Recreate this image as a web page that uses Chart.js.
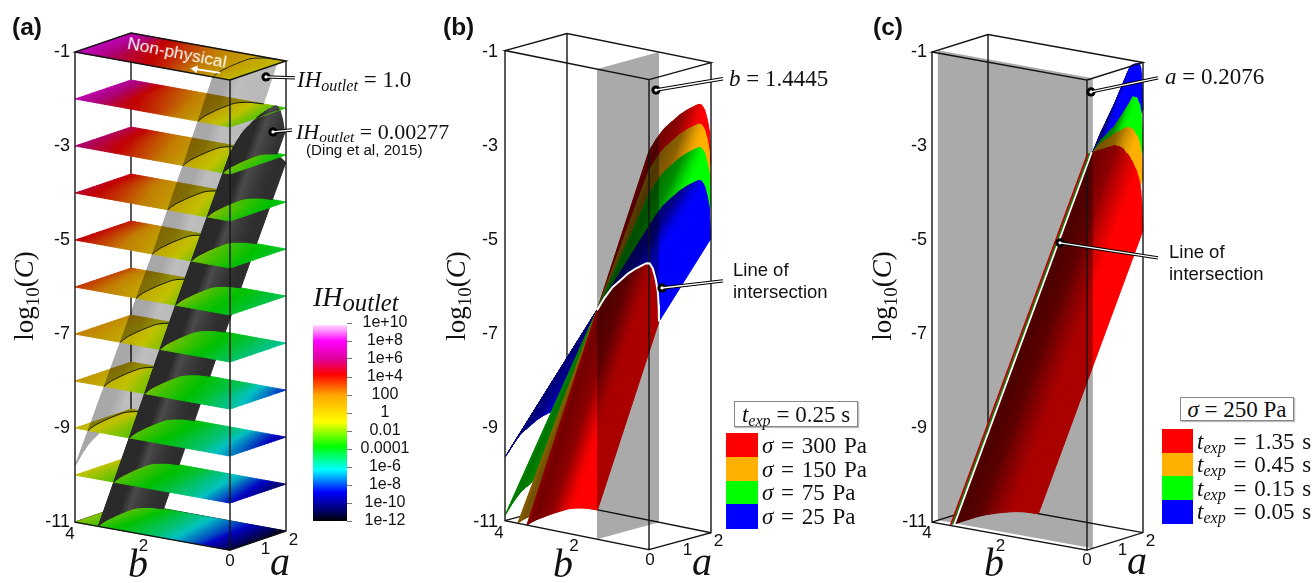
<!DOCTYPE html>
<html>
<head>
<meta charset="utf-8">
<script src="https://cdn.jsdelivr.net/npm/chart.js@4"></script>
<style>
  body { margin: 0; background: #fff; width: 1312px; height: 583px; overflow: hidden; position: relative; }
  canvas { position: absolute; top: 0; }
  .t { position: absolute; white-space: nowrap; line-height: 1; color: #111; }
  .sans { font-family: "Liberation Sans", sans-serif; }
  .math { font-family: "Liberation Serif", serif; font-size: 23px; }
  .math sub { font-size: 0.7em; line-height: 0; font-style: italic; vertical-align: -0.22em; }
  .tag { font: bold 24.5px "Liberation Sans", sans-serif; }
  .axis-b { font-family: "Liberation Serif", serif; font-style: italic; font-size: 40px; }
  .ylab { font-family: "Liberation Serif", serif; font-size: 27px; transform: translate(-50%, -50%) rotate(-90deg); }
  .ylab sub { font-size: 0.7em; line-height: 0; }
  .boxed { border: 1.5px solid #888; box-shadow: 1px 1px 1px #bbb; background: #fff; box-sizing: border-box; display: flex; align-items: center; justify-content: center; }
  .swatch { position: absolute; }
</style>
</head>
<body>
<canvas id="panelA" width="300" height="583" style="left:0"></canvas>
<canvas id="panelB" width="300" height="583" style="left:440px"></canvas>
<canvas id="panelC" width="300" height="583" style="left:870px"></canvas>
<canvas id="colorbar" width="110" height="240" style="left:313px;top:300px"></canvas>
<div id="labels"></div>
<script>
// Axis values
const logCTicks = [-1, -3, -5, -7, -9, -11];
const bTicks = [4, 2, 0];
const aTicks = [1, 2];

// Colour scale, log10(IH_outlet)
const colorbarValues = [10, 8, 6, 4, 2, 0, -2, -4, -6, -8, -10, -12];
const colorbarLabels = ['1e+10', '1e+8', '1e+6', '1e+4', '100', '1', '0.01', '0.0001', '1e-6', '1e-8', '1e-10', '1e-12'];
const cmapValues = [-12, -11, -8.8, -6.3, -3.7, -1, 2, 4.3, 6, 8, 9, 10];
const cmapColors = ['#000000', '#000060', '#0000ff', '#00ffff', '#00ff00', '#ffff00', '#ffa500', '#ff0000', '#e0009a', '#ff00ff', '#ff80ff', '#ffeeff'];

// Panel (a) slices: log10(IH) read at these b values along the a=0 and a=2 edges
const planeLogC = [-1, -2, -3, -4, -5, -6, -7, -8, -9, -10, -11];
const planeB = [4, 3, 2, 1, 0];
const planeIhFront = [
  [8, 5.5, 4.2, 2, -0.5],
  [7.5, 5, 3.6, 1, -2],
  [6, 4.5, 2.5, 0, -2.5],
  [5, 3.5, 1.5, -0.8, -3.2],
  [4.5, 2.5, 0.5, -2, -3.7],
  [3.5, 1.5, -0.5, -3, -4.2],
  [2, 0.5, -1.5, -3.5, -5],
  [1, -0.5, -2.5, -4, -5.6],
  [-0.3, -1.8, -3.5, -4.8, -7],
  [-1, -2.5, -4, -5.5, -8.6],
  [-1.8, -3.6, -5, -7.5, -11]
];
const planeIhBack = [
  [8, 4.3, 2.5, 0.8, -0.7],
  [7, 3.5, 1.5, -0.5, -3],
  [5.5, 2.5, 0.5, -2, -3.7],
  [4.5, 1.5, -0.5, -3, -4],
  [4, 0.5, -1.5, -3.3, -4.3],
  [3, -0.5, -2.5, -3.7, -4.8],
  [1.5, -1.5, -3.2, -4.2, -5.8],
  [0.5, -2.5, -3.7, -5, -8.3],
  [-0.3, -3, -4, -6, -9.6],
  [-1, -3.3, -4.5, -7, -10.6],
  [-1.8, -3.8, -6, -8.5, -11.8]
];

// Iso-surface section: shift of b against a at constant log10(C)
const archA = [0, 0.25, 0.5, 0.75, 1, 1.25, 1.5, 1.6, 1.7, 1.8, 1.9, 1.96, 1.99, 2];
const archB = [0, 0.09, 0.16, 0.2, 0.24, 0.265, 0.28, 0.285, 0.275, 0.225, 0.12, 0.02, -0.1, -0.24];

// Panel (a) iso-surfaces, b at a=0
const lightLogC = [-1, -3, -5, -7, -9, -10];
const lightB = [0.44, 1.21, 2.0, 2.83, 3.66, 4.08];
const darkLogC = [-1, -3, -5, -7, -9, -11];
const darkB = [-0.64, 0.18, 1.0, 1.81, 2.6, 3.4];

// Panel (b): slope db/dlogC of each surface about the line of intersection
const sigmaLabels = ['300', '150', '75', '25'];
const sigmaSlopes = [0.4, 0.452, 0.537, 0.725];
const crossB = 1.4445;
const crossLogC = -6.13;

// Panel (c): shift of b against a for each surface
const texpLabels = ['1.35', '0.45', '0.15', '0.05'];
const crossA = 0.2076;
const texpA = [0, 0.2076, 0.5, 1, 1.25, 1.5, 1.65, 1.8, 1.9, 1.96, 2];
const texpShift = [
  [0, 0, 0, 0, -0.04, -0.13, -0.21, -0.31, -0.42, -0.55, -0.84],
  [0, 0, 0.06, 0.105, 0.12, 0.126, 0.09, 0.02, -0.06, -0.16, -0.37],
  [0, 0, 0.085, 0.176, 0.25, 0.33, 0.385, 0.36, 0.28, 0.16, -0.12],
  [0, 0, 0.155, 0.38, 0.51, 0.64, 0.7, 0.72, 0.66, 0.55, 0.25]
];
const ridgeLogC = [-11, -2.57];
const ridgeB = [3.54, 0];

// Surface lighting against a
const shadeA = [0, 0.4, 1.1, 1.5, 1.8, 2];
const shadeV = [0.55, 0.45, 0.55, 0.8, 1, 1];
const lightGreyA = [0, 1, 1.6, 2];
const lightGreyV = [168, 168, 190, 185];
const darkGreyA = [0, 1.1, 1.5, 1.8, 2];
const darkGreyV = [42, 42, 75, 60, 45];

const seriesRgb = [[255, 0, 0], [255, 176, 0], [0, 255, 0], [0, 0, 255]];
const seriesCss = ['#ff0000', '#ffb000', '#00ff00', '#0000ff'];

const UNIT = 47; // pixels per decade of C on the y scale
const geoA = { bx: 38.75, by: 7, ax: 28, ay: 9.5, shift: 0 };
const geoB = { bx: 36, by: 7.25, ax: 31, ay: 8.5, shift: 0.03 };
const geoC = { bx: 38.75, by: 7, ax: 28, ay: 8.75, shift: 0 };

function lerpTable(xs, ys, x) {
  for (let i = 0; i < xs.length - 1; i++) {
    const x0 = xs[i], x1 = xs[i + 1];
    if ((x >= x0 && x <= x1) || (x <= x0 && x >= x1)) {
      return ys[i] + (ys[i + 1] - ys[i]) * (x - x0) / (x1 - x0);
    }
  }
  // outside the table: carry on the nearest segment
  const n = xs.length - 1;
  const i = Math.abs(x - xs[0]) < Math.abs(x - xs[n]) ? 0 : n - 1;
  return ys[i] + (ys[i + 1] - ys[i]) * (x - xs[i]) / (xs[i + 1] - xs[i]);
}

function hexToRgb(hex) {
  return [1, 3, 5].map(i => parseInt(hex.substr(i, 2), 16));
}

const cmapRgb = cmapColors.map(hexToRgb);
function colormap(v) {
  const clamped = Math.max(-12, Math.min(10, v));
  return [0, 1, 2].map(c => lerpTable(cmapValues, cmapRgb.map(s => s[c]), clamped));
}

function css(rgb, k) {
  return `rgb(${Math.round(rgb[0] * k)},${Math.round(rgb[1] * k)},${Math.round(rgb[2] * k)})`;
}

// oblique view: x scale runs in view units, y scale in log10(C)
function project(geo, a, b, c) {
  const u = 4 - b;
  return { x: u * geo.bx + a * geo.ax, y: c + geo.shift - (u * geo.by - a * geo.ay) / UNIT };
}

function toPixel(chart, geo, a, b, c) {
  const p = project(geo, a, b, c);
  return [chart.scales.x.getPixelForValue(p.x), chart.scales.y.getPixelForValue(p.y)];
}

function fillPoly(ctx, pts, color, seam) {
  ctx.beginPath();
  pts.forEach((p, i) => (i ? ctx.lineTo(p[0], p[1]) : ctx.moveTo(p[0], p[1])));
  ctx.closePath();
  ctx.fillStyle = color;
  ctx.fill();
  if (seam) {
    ctx.strokeStyle = color;
    ctx.lineWidth = seam;
    ctx.lineJoin = 'round';
    ctx.stroke();
  }
}

function logCRange(bAt, a, lo, hi) {
  let first = null, last = null;
  for (let c = lo; c <= hi + 1e-9; c += 0.02) {
    const b = bAt(a, c);
    if (b >= 0 && b <= 4) {
      if (first === null) first = c;
      last = c;
    }
  }
  return first === null ? null : [first, last];
}

function drawSheet(ctx, chart, geo, sheet) {
  const step = 0.04;
  const aMin = sheet.aMin || 0;
  for (let a = aMin; a < 2 - 1e-9; a += step) {
    const a2 = Math.min(2, a + step);
    const r1 = logCRange(sheet.bAt, a, sheet.lo(a), sheet.hi(a));
    const r2 = logCRange(sheet.bAt, a2, sheet.lo(a2), sheet.hi(a2));
    if (!r1 || !r2) continue;
    const pts = [
      toPixel(chart, geo, a, sheet.bAt(a, r1[0]), r1[0]),
      toPixel(chart, geo, a, sheet.bAt(a, r1[1]), r1[1]),
      toPixel(chart, geo, a2, sheet.bAt(a2, r2[1]), r2[1]),
      toPixel(chart, geo, a2, sheet.bAt(a2, r2[0]), r2[0])
    ];
    fillPoly(ctx, pts, sheet.color((a + a2) / 2), 1);
  }
}

function multiplyLayer(ctx, chart, paint) {
  const layer = document.createElement('canvas');
  layer.width = chart.width;
  layer.height = chart.height;
  paint(layer.getContext('2d'));
  ctx.save();
  ctx.globalCompositeOperation = 'multiply';
  ctx.drawImage(layer, 0, 0);
  ctx.restore();
}

function drawSlice(ctx, chart, geo, row) {
  const c = planeLogC[row];
  const nb = 64, na = 16;
  const value = (a, b) => {
    const f = lerpTable(planeB, planeIhFront[row], b);
    const k = lerpTable(planeB, planeIhBack[row], b);
    return f + (k - f) * a / 2;
  };
  for (let i = 0; i < nb; i++) {
    for (let j = 0; j < na; j++) {
      const b1 = 4 - 4 * i / nb, b2 = 4 - 4 * (i + 1) / nb;
      const a1 = 2 * j / na, a2 = 2 * (j + 1) / na;
      const pts = [
        toPixel(chart, geo, a1, b1, c), toPixel(chart, geo, a1, b2, c),
        toPixel(chart, geo, a2, b2, c), toPixel(chart, geo, a2, b1, c)
      ];
      fillPoly(ctx, pts, css(colormap(value((a1 + a2) / 2, (b1 + b2) / 2)), 0.76), 0.8);
    }
  }
}

function archAt(a) { return lerpTable(archA, archB, a); }

function paintPanelA(chart, ctx) {
  const geo = geoA;
  const lightAt = (a, c) => lerpTable(lightLogC, lightB, c) + archAt(a);
  const darkAt = (a, c) => lerpTable(darkLogC, darkB, c) + archAt(a);
  const lightCss = a => { const g = lerpTable(lightGreyA, lightGreyV, a); return css([g, g, g], 1); };
  const darkCss = a => { const g = lerpTable(darkGreyA, darkGreyV, a); return css([g, g, g], 1); };

  for (let row = planeLogC.length - 1; row >= 0; row--) {
    const c = planeLogC[row];
    drawSlice(ctx, chart, geo, row);

    // section of the IH=1 surface on the slice
    if (lightAt(1.6, c) <= 4) {
      ctx.beginPath();
      for (let a = 0; a <= 2.001; a += 0.05) {
        const b = lightAt(a, c);
        if (b < 0 || b > 4) continue;
        const p = toPixel(chart, geo, a, b, c);
        ctx.lineTo(p[0], p[1]);
      }
      ctx.strokeStyle = '#222';
      ctx.lineWidth = 1;
      ctx.stroke();
    }
    if (row === 0) break;

    const lo = () => c, hi = () => planeLogC[row - 1];
    multiplyLayer(ctx, chart, g => drawSheet(g, chart, geo, { bAt: lightAt, lo, hi, color: lightCss }));
    drawSheet(ctx, chart, geo, { bAt: darkAt, lo, hi, color: darkCss });
  }
}

function paintPanelB(chart, ctx) {
  const geo = geoB;
  const crossAt = a => crossLogC + archAt(a) / sigmaSlopes[0];
  const sheet = i => ({
    bAt: (a, c) => crossB - sigmaSlopes[i] * (c - crossAt(a)),
    color: a => css(seriesRgb[i], lerpTable(shadeA, shadeV, a))
  });
  // part below the line of intersection, then the part above it
  for (let i = 3; i >= 0; i--) {
    drawSheet(ctx, chart, geo, { ...sheet(i), lo: () => -11, hi: crossAt });
  }
  for (let i = 0; i < 4; i++) {
    drawSheet(ctx, chart, geo, { ...sheet(i), lo: crossAt, hi: () => -1 });
  }
  ctx.save();
  ctx.globalCompositeOperation = 'multiply';
  fillPoly(ctx, [
    toPixel(chart, geo, 0, crossB, -1), toPixel(chart, geo, 2, crossB, -1),
    toPixel(chart, geo, 2, crossB, -11), toPixel(chart, geo, 0, crossB, -11)
  ], '#aaaaaa');
  ctx.restore();
}

function paintPanelC(chart, ctx) {
  const geo = geoC;
  for (let i = 3; i >= 0; i--) {
    drawSheet(ctx, chart, geo, {
      aMin: crossA,
      bAt: (a, c) => lerpTable(ridgeLogC, ridgeB, c) + lerpTable(texpA, texpShift[i], a),
      lo: () => -11,
      hi: () => -1,
      color: a => css(seriesRgb[i], lerpTable(shadeA, shadeV, a))
    });
  }
  ctx.save();
  ctx.globalCompositeOperation = 'multiply';
  fillPoly(ctx, [
    toPixel(chart, geo, crossA, 4, -1), toPixel(chart, geo, crossA, 0, -1),
    toPixel(chart, geo, crossA, 0, -11), toPixel(chart, geo, crossA, 4, -11)
  ], '#aaaaaa');
  ctx.restore();
}

function polyline(geo, corners) {
  // corners: [a, b, logC] triples, null breaks the line
  return corners.map(k => (k ? project(geo, k[0], k[1], k[2]) : { x: null, y: null }));
}

function boxDatasets(geo) {
  const back = [[2, 4, -1], [2, 4, -11], null, [0, 4, -11], [2, 4, -11], [2, 0, -11]];
  const front = [
    [0, 4, -1], [0, 4, -11], [0, 0, -11], [0, 0, -1], [0, 4, -1], [2, 4, -1], [2, 0, -1], [0, 0, -1], null,
    [2, 0, -1], [2, 0, -11], [0, 0, -11]
  ];
  const edge = { showLine: true, pointRadius: 0, clip: false, borderColor: '#141414', borderWidth: 1.4, spanGaps: false };
  return [
    { ...edge, id: 'back', order: 10, data: polyline(geo, back) },
    { ...edge, id: 'front', order: 5, data: polyline(geo, front) }
  ];
}

// black-and-white leader from a dot on the surface to its label
function leader(dot, end) {
  const data = [{ x: dot[0], y: dot[1] }, { x: end[0], y: end[1] }];
  const base = { showLine: true, clip: false, data };
  return [
    { ...base, order: 2, borderColor: '#000', borderWidth: 3.4, pointRadius: [4.6, 0], pointBackgroundColor: '#000', pointBorderWidth: 0 },
    { ...base, order: 1, borderColor: '#fff', borderWidth: 1.4, pointRadius: [1.6, 0], pointBackgroundColor: '#fff', pointBorderWidth: 0 }
  ];
}

function makeChart(id, geo, axisWidth, tickPad, paint, extra, nudge) {
  const canvas = document.getElementById(id);
  return new Chart(canvas, {
    type: 'scatter',
    data: { datasets: [...boxDatasets(geo), ...extra] },
    options: {
      responsive: false,
      animation: false,
      events: [],
      layout: { padding: { top: 20, bottom: 20, left: 0, right: 0 } },
      plugins: { legend: { display: false }, tooltip: { enabled: false } },
      scales: {
        x: { type: 'linear', display: false, min: 0, max: 200 },
        y: {
          type: 'linear',
          min: -11.87,
          max: -0.32,
          afterBuildTicks: s => { s.ticks = logCTicks.map(v => ({ value: v })); },
          afterFit: s => { s.width = axisWidth; },
          grid: { display: false, drawTicks: false },
          border: { display: false },
          ticks: { padding: tickPad, color: '#111', font: { family: 'Liberation Sans', size: 18 }, callback: v => String(v) }
        }
      }
    },
    plugins: [{
      id: 'surfaces',
      afterLayout(chart) {
        // view units along x are one per pixel of the plot width
        const x = chart.scales.x;
        x.min = 0;
        x.max = x.width;
        x.configure();
      },
      afterDatasetDraw(chart, args) {
        if (chart.data.datasets[args.index].id === 'back') paint(chart, chart.ctx);
      },
      afterDraw(chart) {
        const ctx = chart.ctx;
        ctx.save();
        ctx.fillStyle = '#111';
        ctx.font = '17px "Liberation Sans"';
        ctx.textAlign = 'center';
        ctx.textBaseline = 'middle';
        bTicks.forEach((b, i) => {
          const p = toPixel(chart, geo, 0, b, -11);
          ctx.fillText(String(b), p[0] + nudge[i][0], p[1] + nudge[i][1]);
        });
        aTicks.forEach(a => {
          const p = toPixel(chart, geo, a, 0, -11);
          ctx.fillText(String(a), p[0] + 7.5, p[1] + 9);
        });
        ctx.restore();
      }
    }]
  });
}

// Panel (a)
const arrowLine = {
  showLine: true, clip: false, order: 1, borderColor: '#fff', borderWidth: 1.8,
  pointStyle: 'triangle', pointRotation: -80, pointRadius: [0, 4.5], pointBackgroundColor: '#fff', pointBorderWidth: 0,
  data: [{ x: 145, y: -1.447 }, { x: 120, y: -1.362 }]
};
makeChart('panelA', geoA, 75, 5, paintPanelA, [
  ...leader([191, -1.53], [220, -1.55]),
  ...leader([198, -2.7], [217, -2.66]),
  arrowLine
], [[-5, 12], [-9, 10.5], [0, 11]]);

// Panel (b)
const crossCurveA = archA;
makeChart('panelB', geoB, 65, 7, paintPanelB, [
  {
    showLine: true, clip: false, order: 3, pointRadius: 0, borderColor: '#fff', borderWidth: 2,
    data: crossCurveA.map(a => project(geoB, a, crossB, crossLogC + archAt(a) / sigmaSlopes[0]))
  },
  ...leader([151, -1.81], [218, -1.57]),
  ...leader([157, -6.02], [218, -5.87])
], [[-6, 12.5], [-3, 11.5], [1, 11]]);

// Panel (c)
const stripe = (a, color) => ({
  showLine: true, clip: false, order: 3, pointRadius: 0, borderColor: color, borderWidth: 1.7,
  data: ridgeLogC.map((c, i) => project(geoC, a, ridgeB[i], c))
});
makeChart('panelC', geoC, 62, 5, paintPanelC, [
  stripe(0.03, '#b80000'),
  stripe(0.09, '#0a800a'),
  stripe(0.17, '#ffffff'),
  ...leader([159, -1.85], [226, -1.55]),
  ...leader([128, -5.06], [226, -5.38])
], [[-5, 11], [-9, 10], [0, 10]]);

// Colour bar
new Chart(document.getElementById('colorbar'), {
  type: 'bar',
  data: {
    labels: ['IH'],
    datasets: [{
      data: [[-12, 9.7]],
      barPercentage: 1,
      categoryPercentage: 1,
      backgroundColor: c => {
        const { ctx, chartArea, scales } = c.chart;
        if (!chartArea) return '#000';
        const y0 = scales.y.getPixelForValue(-12), y1 = scales.y.getPixelForValue(10);
        const g = ctx.createLinearGradient(0, y0, 0, y1);
        cmapValues.forEach((v, i) => g.addColorStop((v + 12) / 22, cmapColors[i]));
        return g;
      }
    }]
  },
  options: {
    responsive: false,
    animation: false,
    events: [],
    layout: { padding: { top: 23, bottom: 19 } },
    plugins: { legend: { display: false }, tooltip: { enabled: false } },
    scales: {
      x: { display: false },
      y: {
        position: 'right',
        min: -12,
        max: 10,
        afterBuildTicks: s => { s.ticks = colorbarValues.map(v => ({ value: v })); },
        afterFit: s => { s.width = 76; },
        grid: { drawOnChartArea: false, tickLength: 5, color: '#777' },
        border: { display: false },
        ticks: {
          padding: 8.5,
          autoSkip: false,
          crossAlign: 'center',
          color: '#111',
          font: { family: 'Liberation Sans', size: 16 },
          callback: v => colorbarLabels[colorbarValues.indexOf(v)]
        }
      }
    }
  }
});

// Text and legends
const labels = document.getElementById('labels');
function addText(cls, x, y, html, style) {
  const el = document.createElement('div');
  el.className = 't ' + cls;
  el.style.left = x + 'px';
  el.style.top = y + 'px';
  el.innerHTML = html;
  if (style) Object.assign(el.style, style);
  labels.appendChild(el);
  return el;
}
const IH = '<i>IH</i><sub>outlet</sub>';
const TEXP = '<i>t</i><sub>exp</sub>';
const LOG = 'log<sub>10</sub>(<i>C</i>)';

addText('tag', 12, 13, '(a)');
addText('tag', 443, 13, '(b)');
addText('tag', 873, 13, '(c)');
[24, 456, 882].forEach(x => addText('ylab', x, 296, LOG));
[[128, 544], [553, 544], [984, 543]].forEach(p => addText('axis-b', p[0], p[1], 'b'));
[[270, 542], [692, 542], [1127, 541]].forEach(p => addText('axis-b', p[0], p[1], 'a'));

addText('sans', 177, 53, 'Non-physical', { color: '#fff', fontSize: '17.4px', transform: 'translate(-50%,-50%) rotate(11deg)' });
addText('math', 297, 68, `${IH} = 1.0`);
addText('math', 296, 121, `${IH} = 0.00277`, { fontSize: '22px' });
addText('sans', 306, 142, '(Ding et al, 2015)', { fontSize: '15.2px' });
addText('math', 313, 283, '<i>IH</i><sub style="font-size:0.88em">outlet</sub>', { fontSize: '28px' });
addText('math', 729, 67, '<i>b</i> = 1.4445');
addText('math', 1165, 65, '<i>a</i> = 0.2076');
addText('sans', 733, 259, 'Line of<br>intersection', { fontSize: '18.5px', lineHeight: '22px' });
addText('sans', 1169, 241, 'Line of<br>intersection', { fontSize: '18.5px', lineHeight: '22px' });

addText('math boxed', 734, 401, `<span>${TEXP} = 0.25 s</span>`, { width: '124px', height: '26px' });
addText('math boxed', 1180, 397, '<span><i>σ</i> = 250 Pa</span>', { width: '114px', height: '24px' });

function addLegend(x, y, w, rowH, textX, rows) {
  rows.forEach((html, i) => {
    const s = document.createElement('div');
    s.className = 'swatch';
    Object.assign(s.style, { left: x + 'px', top: y + i * rowH + 'px', width: w + 'px', height: rowH + 0.5 + 'px', background: seriesCss[i] });
    labels.appendChild(s);
    addText('math', textX, y + i * rowH + rowH / 2 - 11, html, { wordSpacing: '2px' });
  });
}
addLegend(726, 433, 32, 23.75, 762, sigmaLabels.map(v => `<i>σ</i> = ${v} Pa`));
addLegend(1162, 429, 31, 23.5, 1197, texpLabels.map(v => `${TEXP} = ${v} s`));
</script>
</body>
</html>
